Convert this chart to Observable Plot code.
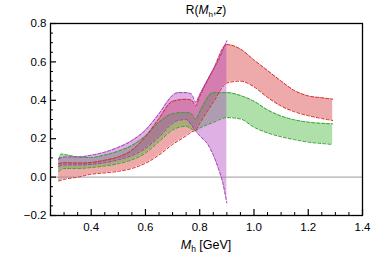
<!DOCTYPE html>
<html><head><meta charset="utf-8">
<script src="https://cdn.jsdelivr.net/npm/d3@7"></script>
<script src="https://cdn.jsdelivr.net/npm/@observablehq/plot@0.6"></script>
<style>body{margin:0;background:#fff}</style>
</head><body><div id="chart"></div>
<script>
// Red band
const redX    = [0.28,0.30,0.35,0.40,0.45,0.50,0.55,0.60,0.65,0.70,0.75,0.77,0.785,0.80,0.85,0.90,0.95,1.00,1.05,1.10,1.15,1.20,1.25,1.29];
const redLow  = [-0.02,-0.012,0.0,0.015,0.022,0.03,0.045,0.072,0.115,0.17,0.215,0.235,0.245,0.28,0.39,0.49,0.50,0.47,0.415,0.37,0.34,0.32,0.305,0.295];
const redHigh = [0.07,0.075,0.073,0.076,0.088,0.105,0.14,0.21,0.305,0.395,0.405,0.40,0.372,0.42,0.56,0.69,0.667,0.61,0.555,0.50,0.45,0.423,0.413,0.406];
// Green band
const greenX    = [0.28,0.29,0.30,0.35,0.40,0.45,0.50,0.55,0.60,0.65,0.70,0.75,0.77,0.785,0.80,0.85,0.90,0.95,1.00,1.05,1.10,1.15,1.20,1.25,1.29];
const greenLow  = [0.03,0.04,0.045,0.045,0.05,0.058,0.07,0.09,0.125,0.185,0.245,0.265,0.25,0.243,0.255,0.285,0.31,0.303,0.26,0.23,0.21,0.195,0.182,0.175,0.17];
const greenHigh = [0.09,0.12,0.118,0.105,0.102,0.115,0.135,0.165,0.215,0.285,0.33,0.337,0.33,0.30,0.34,0.44,0.44,0.425,0.395,0.35,0.318,0.298,0.286,0.28,0.277];
// Purple band
const purpleX    = [0.28,0.30,0.35,0.40,0.45,0.50,0.55,0.60,0.65,0.70,0.72,0.75,0.77,0.785,0.80,0.83,0.85,0.87,0.885,0.90];
const purpleHigh = [0.095,0.105,0.105,0.114,0.13,0.155,0.19,0.245,0.33,0.425,0.44,0.44,0.432,0.39,0.43,0.51,0.56,0.61,0.66,0.71];
const purpleLow  = [0.055,0.063,0.063,0.066,0.075,0.09,0.112,0.15,0.21,0.28,0.295,0.30,0.27,0.24,0.215,0.17,0.115,0.04,-0.03,-0.135];

const xTicks = [0.4,0.6,0.8,1.0,1.2,1.4];
const yTicks = [-0.2,0.0,0.2,0.4,0.6,0.8];
const xMinor = d3.range(6,28).map(i => i*0.05).filter(v => !xTicks.some(t => Math.abs(t-v)<1e-9));
const yMinor = d3.range(-3,16).map(i => i*0.05).filter(v => !yTicks.some(t => Math.abs(t-v)<1e-9));

const band = (xs, lo, hi) => xs.map((x,i) => ({x, lo: lo[i], hi: hi[i]}));
const red = band(redX, redLow, redHigh);
const green = band(greenX, greenLow, greenHigh);
const purple = band(purpleX, purpleLow, purpleHigh);

const W = 382, H = 255, mL = 50, mR = 20, mT = 23, mB = 40;
const innerH = H - mT - mB, innerW = W - mL - mR;
const curve = "monotone-x";
const cRed = "rgb(215,40,40)", cGreen = "rgb(50,160,50)", cPurple = "rgb(170,55,190)";
const dash = "3,2";

const plot = Plot.plot({
  width: W, height: H, marginLeft: mL, marginRight: mR, marginTop: mT, marginBottom: mB,
  x: {domain: [0.25, 1.4]},
  y: {domain: [-0.2, 0.8]},
  style: {fontFamily: "'Liberation Sans', Arial, sans-serif", fontSize: "11px", background: "white", color: "black"},
  marks: [
    Plot.areaY(red, {x: "x", y1: "lo", y2: "hi", fill: "rgb(212,42,42)", fillOpacity: 0.4, curve}),
    Plot.areaY(green, {x: "x", y1: "lo", y2: "hi", fill: "rgb(57,177,42)", fillOpacity: 0.4, curve}),
    Plot.areaY(purple, {x: "x", y1: "lo", y2: "hi", fill: "rgb(172,57,187)", fillOpacity: 0.4, curve}),
    Plot.ruleY([0], {stroke: "#9a9a9a", strokeWidth: 1}),
    Plot.lineY(green, {x: "x", y: "lo", stroke: cGreen, strokeDasharray: dash, strokeWidth: 1, curve}),
    Plot.lineY(green, {x: "x", y: "hi", stroke: cGreen, strokeDasharray: dash, strokeWidth: 1, curve}),
    Plot.lineY(red, {x: "x", y: "lo", stroke: cRed, strokeDasharray: dash, strokeWidth: 1, curve}),
    Plot.lineY(red, {x: "x", y: "hi", stroke: cRed, strokeDasharray: dash, strokeWidth: 1, curve}),
    Plot.lineY(purple, {x: "x", y: "lo", stroke: cPurple, strokeDasharray: dash, strokeWidth: 1, curve}),
    Plot.lineY(purple, {x: "x", y: "hi", stroke: cPurple, strokeDasharray: dash, strokeWidth: 1, curve}),
    Plot.tickX(xTicks, {x: d => d, insetTop: innerH - 6, stroke: "black", strokeWidth: 1.2}),
    Plot.tickX(xMinor, {x: d => d, insetTop: innerH - 3, stroke: "black", strokeWidth: 1}),
    Plot.tickY(yTicks, {y: d => d, insetRight: innerW - 6, stroke: "black", strokeWidth: 1.2}),
    Plot.tickY(yMinor, {y: d => d, insetRight: innerW - 3, stroke: "black", strokeWidth: 1}),
    Plot.frame({stroke: "black", strokeWidth: 1.3}),
    Plot.axisX({ticks: xTicks, tickSize: 0, tickPadding: 7, tickFormat: d3.format(".1f"), label: null, fontSize: 11.5}),
    Plot.axisY({ticks: yTicks, tickSize: 0, tickPadding: 4, tickFormat: d3.format(".1f"), label: null, fontSize: 11.5})
  ]
});

const svg = d3.select(plot);
const cx = mL + innerW / 2;
const title = svg.append("text").attr("x", cx).attr("y", 14).attr("text-anchor", "middle")
  .attr("font-size", 12).attr("font-family", "'Liberation Sans', Arial, sans-serif").attr("fill", "black");
title.append("tspan").text("R(");
title.append("tspan").attr("font-style", "italic").text("M");
title.append("tspan").attr("font-size", 8).attr("dy", 3).text("h");
title.append("tspan").attr("dy", -3).text(",");
title.append("tspan").attr("font-style", "italic").text("z");
title.append("tspan").text(")");

const xl = svg.append("text").attr("x", cx).attr("y", 249).attr("text-anchor", "middle")
  .attr("font-size", 12.5).attr("font-family", "'Liberation Sans', Arial, sans-serif").attr("fill", "black");
xl.append("tspan").attr("font-style", "italic").text("M");
xl.append("tspan").attr("font-size", 8.5).attr("dy", 3).text("h");
xl.append("tspan").attr("dy", -3).text(" [GeV]");

document.getElementById("chart").appendChild(plot);
</script>
</body></html>
